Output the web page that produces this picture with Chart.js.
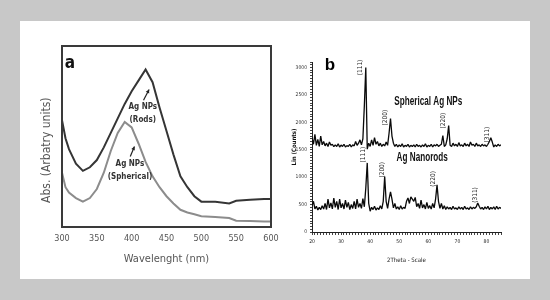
<!DOCTYPE html>
<html>
<head>
<meta charset="utf-8">
<script src="https://cdn.jsdelivr.net/npm/chart.js@4.4.1/dist/chart.umd.min.js"></script>
<style>
  html, body { margin: 0; padding: 0; }
  body { width: 550px; height: 300px; background: #c8c8c8; position: relative; overflow: hidden; }
  #card { position: absolute; left: 20px; top: 21px; width: 510px; height: 258px; background: #fff; }
  canvas { position: absolute; top: 0; }
  #uv { left: 0; width: 290px; height: 300px; }
  #xrd { left: 290px; width: 260px; height: 300px; }
</style>
</head>
<body>
<div id="card"></div>
<canvas id="uv" width="290" height="300"></canvas>
<canvas id="xrd" width="260" height="300"></canvas>
<script>
// panel a - UV-vis absorbance
const wavelengths = [300, 305, 310, 320, 330, 340, 350, 360, 370, 380, 390, 400, 410, 420,
  430, 440, 450, 460, 470, 480, 490, 500, 520, 540, 550, 570, 590, 600];
const absRods = [0.59, 0.49, 0.43, 0.35, 0.31, 0.33, 0.37, 0.44, 0.52, 0.60, 0.68, 0.75, 0.81, 0.87,
  0.80, 0.66, 0.53, 0.40, 0.28, 0.22, 0.17, 0.14, 0.14, 0.13, 0.145, 0.15, 0.155, 0.155];
const absSpherical = [0.30, 0.22, 0.19, 0.16, 0.14, 0.16, 0.21, 0.30, 0.42, 0.52, 0.58, 0.55, 0.46, 0.36,
  0.28, 0.22, 0.17, 0.13, 0.095, 0.08, 0.07, 0.06, 0.055, 0.05, 0.035, 0.033, 0.03, 0.03];
const wavelengthTicks = [300, 350, 400, 450, 500, 550, 600];

// panel b - XRD pattern
const twoTheta = [
  20, 20.5, 21, 21.5, 22, 22.5, 23, 23.5, 24, 24.5,
  25, 25.5, 26, 26.5, 27, 27.5, 28, 28.5, 29, 29.5,
  30, 30.5, 31, 31.5, 32, 32.5, 33, 33.5, 34, 34.5,
  35, 35.5, 36, 36.5, 37, 37.5, 38, 38.5, 39, 39.5,
  40, 40.5, 41, 41.5, 42, 42.5, 43, 43.5, 44, 44.5,
  45, 45.5, 46, 46.5, 47, 47.5, 48, 48.5, 49, 49.5,
  50, 50.5, 51, 51.5, 52, 52.5, 53, 53.5, 54, 54.5,
  55, 55.5, 56, 56.5, 57, 57.5, 58, 58.5, 59, 59.5,
  60, 60.5, 61, 61.5, 62, 62.5, 63, 63.5, 64, 64.5,
  65, 65.5, 66, 66.5, 67, 67.5, 68, 68.5, 69, 69.5,
  70, 70.5, 71, 71.5, 72, 72.5, 73, 73.5, 74, 74.5,
  75, 75.5, 76, 76.5, 77, 77.5, 78, 78.5, 79, 79.5,
  80, 80.5, 81, 81.5, 82, 82.5, 83, 83.5, 84, 84.5,
  85];
const countsSpherical = [
  1720, 1600, 1780, 1580, 1690, 1560, 1750, 1590, 1650, 1570,
  1620, 1560, 1640, 1580, 1600, 1555, 1590, 1560, 1610, 1550,
  1585, 1560, 1600, 1550, 1575, 1560, 1600, 1550, 1590, 1570,
  1650, 1580, 1620, 1680, 1590, 1700, 2300, 3000, 1510, 1620,
  1560, 1680, 1580, 1720, 1600, 1650, 1570, 1620, 1560, 1600,
  1570, 1640, 1580, 1800, 2070, 1750, 1620, 1560, 1600, 1550,
  1590, 1560, 1610, 1550, 1580, 1560, 1600, 1550, 1580, 1560,
  1590, 1550, 1600, 1560, 1580, 1550, 1590, 1560, 1610, 1550,
  1580, 1560, 1600, 1550, 1590, 1570, 1600, 1560, 1580, 1600,
  1760, 1560, 1590, 1700, 1940, 1580, 1560, 1620, 1570, 1600,
  1560, 1630, 1570, 1590, 1560, 1620, 1570, 1600, 1560, 1640,
  1580, 1600, 1560, 1620, 1570, 1590, 1560, 1600, 1570, 1590,
  1560, 1600, 1650, 1720, 1640, 1550, 1590, 1560, 1600, 1570,
  1590];
const countsNanorods = [
  480, 560, 420, 470, 400, 450, 410, 480, 420, 520,
  410, 600, 440, 530, 420, 620, 450, 560, 410, 600,
  440, 520, 420, 580, 450, 540, 410, 500, 430, 560,
  420, 600, 450, 520, 430, 610, 460, 800, 1260, 520,
  380, 450, 410, 470, 400, 440, 410, 480, 420, 560,
  1010, 560, 430, 600, 730, 600, 440, 520, 420, 460,
  410, 480, 420, 450, 430, 560, 620, 520, 640, 600,
  560, 630, 460, 520, 430, 580, 440, 500, 420, 540,
  430, 480, 420, 520, 440, 600, 860, 560, 430, 520,
  420, 480, 410, 460, 420, 450, 410, 470, 420, 440,
  410, 460, 420, 450, 410, 470, 420, 440, 410, 460,
  420, 450, 430, 460, 530, 470, 420, 450, 410, 460,
  420, 470, 410, 450, 420, 460, 410, 470, 420, 450,
  430];
const twoThetaTicks = [20, 30, 40, 50, 60, 70, 80];
const countTicks = [0, 500, 1000, 1500, 2000, 2500, 3000];

// labels, placed in data units
const uvNotes = [
  { lines: ['Ag NPs', '(Rods)'], x: 416, y: 0.663, arrowFrom: [417, 0.70], arrowTo: [425, 0.76] },
  { lines: ['Ag NPs', '(Spherical)'], x: 397.5, y: 0.35, arrowFrom: [398, 0.39], arrowTo: [404, 0.445] }
];
const peakLabels = [
  { text: '(111)', x: 36.6, y: 3000 }, { text: '(200)', x: 45.2, y: 2085 },
  { text: '(220)', x: 65.2, y: 2030 }, { text: '(311)', x: 80.3, y: 1775 },
  { text: '(111)', x: 37.6, y: 1410 }, { text: '(200)', x: 44.1, y: 1135 },
  { text: '(220)', x: 61.7, y: 970 }, { text: '(311)', x: 76.2, y: 675 }
];
const seriesNames = [
  { text: 'Spherical Ag NPs', x: 60, y: 2378 },
  { text: 'Ag Nanorods', x: 57.9, y: 1354 }
];

const narrow = "'Liberation Sans Narrow', 'DejaVu Sans Condensed', Arial, sans-serif";
const toPoints = (xs, ys) => xs.map((v, i) => ({ x: v, y: ys[i] }));

const uvDecor = {
  id: 'uvDecor',
  afterDatasetsDraw(chart) {
    const { ctx, chartArea: a, scales: { x, y } } = chart;
    ctx.save();
    ctx.strokeStyle = '#3a3a3a';
    ctx.lineWidth = 2;
    ctx.strokeRect(a.left, a.top, a.right - a.left, a.bottom - a.top);

    ctx.fillStyle = '#111';
    ctx.textAlign = 'center';
    ctx.textBaseline = 'middle';
    ctx.font = 'bold 17px ' + narrow;
    ctx.fillText('a', x.getPixelForValue(311.5), y.getPixelForValue(0.905));

    uvNotes.forEach(n => {
      ctx.font = 'bold 8px ' + narrow;
      ctx.fillStyle = '#333';
      n.lines.forEach((t, i) => {
        ctx.fillText(t, x.getPixelForValue(n.x), y.getPixelForValue(n.y) + i * 13);
      });
      const x0 = x.getPixelForValue(n.arrowFrom[0]), y0 = y.getPixelForValue(n.arrowFrom[1]);
      const x1 = x.getPixelForValue(n.arrowTo[0]), y1 = y.getPixelForValue(n.arrowTo[1]);
      const ang = Math.atan2(y1 - y0, x1 - x0);
      ctx.strokeStyle = '#222';
      ctx.lineWidth = 1.2;
      ctx.beginPath();
      ctx.moveTo(x0, y0);
      ctx.lineTo(x1, y1);
      ctx.stroke();
      ctx.beginPath();
      ctx.moveTo(x1, y1);
      ctx.lineTo(x1 - 4 * Math.cos(ang - 0.5), y1 - 4 * Math.sin(ang - 0.5));
      ctx.lineTo(x1 - 4 * Math.cos(ang + 0.5), y1 - 4 * Math.sin(ang + 0.5));
      ctx.closePath();
      ctx.fillStyle = '#222';
      ctx.fill();
    });
    ctx.restore();
  }
};

new Chart(document.getElementById('uv'), {
  type: 'line',
  data: {
    datasets: [
      { label: 'Ag NPs (Rods)', data: toPoints(wavelengths, absRods), borderColor: '#353535', borderWidth: 2, pointRadius: 0, tension: 0 },
      { label: 'Ag NPs (Spherical)', data: toPoints(wavelengths, absSpherical), borderColor: '#8c8c8c', borderWidth: 2, pointRadius: 0, tension: 0 }
    ]
  },
  options: {
    responsive: false,
    animation: false,
    devicePixelRatio: 1,
    layout: { padding: { top: 46, right: 19, left: 0, bottom: 0 } },
    plugins: { legend: { display: false }, tooltip: { enabled: false } },
    scales: {
      x: {
        type: 'linear', min: 300, max: 600,
        afterBuildTicks: s => { s.ticks = wavelengthTicks.map(v => ({ value: v })); },
        ticks: { color: '#555', padding: 4, maxRotation: 0, font: { size: 9, family: narrow } },
        grid: { display: false, tickLength: 2 },
        border: { display: false },
        title: { display: true, text: 'Wavelenght (nm)', color: '#555', font: { size: 11, family: narrow }, padding: { top: 0, bottom: 34 } },
        afterFit: s => { s.height = 73; }
      },
      y: {
        min: 0, max: 1,
        ticks: { display: false },
        grid: { display: false },
        border: { display: false },
        title: { display: true, text: 'Abs. (Arbatry units)        ', color: '#555', font: { size: 12, family: narrow }, padding: { top: 40, bottom: 0 } },
        afterFit: s => { s.width = 62; }
      }
    }
  },
  plugins: [uvDecor]
});

// draws text squeezed sideways, like the condensed face used in the original figure
function narrowText(ctx, text, px, py, squeeze) {
  ctx.save();
  ctx.translate(px, py);
  ctx.scale(squeeze, 1);
  ctx.fillText(text, 0, 0);
  ctx.restore();
}

const xrdDecor = {
  id: 'xrdDecor',
  afterDatasetsDraw(chart) {
    const { ctx, scales: { x, y } } = chart;
    ctx.save();
    ctx.textAlign = 'center';
    ctx.textBaseline = 'middle';
    ctx.fillStyle = '#000';
    ctx.font = 'bold 17px Arial, sans-serif';
    ctx.fillText('b', x.getPixelForValue(26.2), y.getPixelForValue(3036));

    ctx.fillStyle = '#111';
    ctx.font = 'bold 12px Arial, sans-serif';
    seriesNames.forEach(n => narrowText(ctx, n.text, x.getPixelForValue(n.x), y.getPixelForValue(n.y), 0.68));

    ctx.font = '6.5px ' + narrow;
    ctx.fillStyle = '#222';
    peakLabels.forEach(p => {
      ctx.save();
      ctx.translate(x.getPixelForValue(p.x), y.getPixelForValue(p.y));
      ctx.rotate(-Math.PI / 2);
      ctx.fillText(p.text, 0, 0);
      ctx.restore();
    });
    ctx.restore();
  }
};

new Chart(document.getElementById('xrd'), {
  type: 'line',
  data: {
    datasets: [
      { label: 'Spherical Ag NPs', data: toPoints(twoTheta, countsSpherical), borderColor: '#0a0a0a', borderWidth: 1.3, pointRadius: 0, borderJoinStyle: 'bevel' },
      { label: 'Ag Nanorods', data: toPoints(twoTheta, countsNanorods), borderColor: '#0a0a0a', borderWidth: 1.3, pointRadius: 0, borderJoinStyle: 'bevel' }
    ]
  },
  options: {
    responsive: false,
    animation: false,
    devicePixelRatio: 1,
    layout: { padding: { top: 62, right: 49, left: 0, bottom: 0 } },
    plugins: { legend: { display: false }, tooltip: { enabled: false } },
    scales: {
      x: {
        type: 'linear', min: 20, max: 85,
        ticks: {
          stepSize: 1, autoSkip: false, maxRotation: 0, padding: 4, color: '#222',
          font: { size: 5, family: narrow },
          callback: v => twoThetaTicks.includes(v) ? String(v) : ''
        },
        grid: { display: true, drawOnChartArea: false, tickLength: 3, color: '#444' },
        border: { display: true, color: '#222' },
        title: { display: true, text: '2Theta - Scale', color: '#222', font: { size: 6, family: narrow }, padding: { top: 0, bottom: 36 } },
        afterFit: s => { s.height = 68; }
      },
      y: {
        min: 0, max: 3100,
        ticks: {
          stepSize: 50, autoSkip: false, padding: 3, color: '#333',
          font: { size: 5, family: narrow },
          callback: v => countTicks.includes(v) ? String(v) : ''
        },
        grid: { display: true, drawOnChartArea: false, tickLength: 2, color: '#444' },
        border: { display: true, color: '#222' },
        title: { display: true, text: 'Lin (Counts)', color: '#111', font: { size: 6, weight: 'bold', family: narrow }, padding: { top: 1, bottom: 0 } },
        afterFit: s => { s.width = 22; }
      }
    }
  },
  plugins: [xrdDecor]
});
</script>
</body>
</html>
